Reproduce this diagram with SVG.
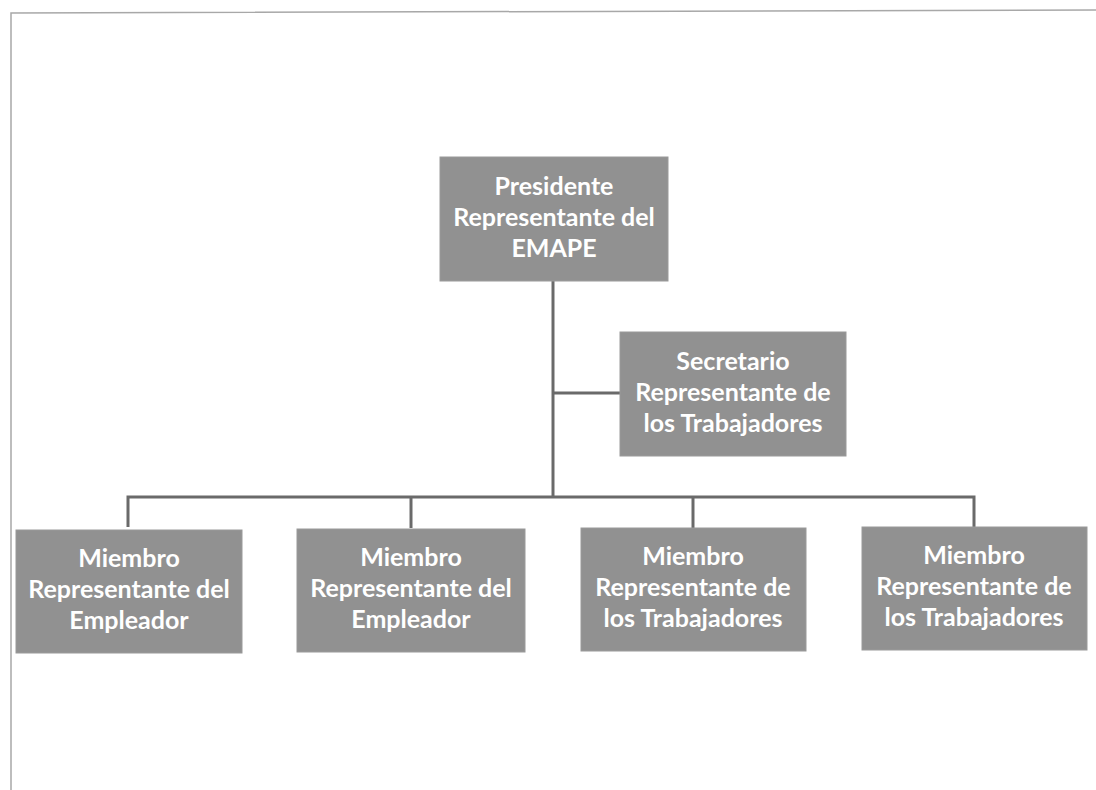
<svg xmlns="http://www.w3.org/2000/svg" width="1096" height="790" viewBox="0 0 1096 790">
<style>
.box{fill:#919191;stroke:#9a9a9a;stroke-width:1}
.t{font-family:Lato,"Open Sans","Liberation Sans",sans-serif;font-weight:bold;font-size:25px;fill:#ffffff;text-anchor:middle}
.ln{stroke:#6a6a6a;stroke-width:3;fill:none}
.frame{stroke:#a8a8a8;stroke-width:1.5;fill:none}
</style>
<rect width="1096" height="790" fill="#ffffff"/>
<path class="frame" d="M11,790 L11,13 L1096,10"/>
<g id="connectors">
<path class="ln" d="M553,281 V497"/>
<path class="ln" d="M553,393 H620"/>
<path class="ln" d="M128,527 V497 H974 V527"/>
<path class="ln" d="M411,497 V528"/>
<path class="ln" d="M693,497 V528"/>
</g>
<g id="presidente">
<rect class="box" x="440" y="157" width="228" height="124"/>
<text class="t" x="554" y="195">Presidente</text>
<text class="t" x="554" y="226">Representante del</text>
<text class="t" x="554" y="257">EMAPE</text>
</g>
<g id="secretario">
<rect class="box" x="620" y="332" width="226" height="124"/>
<text class="t" x="733" y="370">Secretario</text>
<text class="t" x="733" y="401">Representante de</text>
<text class="t" x="733" y="432">los Trabajadores</text>
</g>
<g id="miembro1">
<rect class="box" x="16" y="530" width="226" height="123"/>
<text class="t" x="129" y="567">Miembro</text>
<text class="t" x="129" y="598">Representante del</text>
<text class="t" x="129" y="629">Empleador</text>
</g>
<g id="miembro2">
<rect class="box" x="297" y="529" width="228" height="123"/>
<text class="t" x="411" y="566">Miembro</text>
<text class="t" x="411" y="597">Representante del</text>
<text class="t" x="411" y="628">Empleador</text>
</g>
<g id="miembro3">
<rect class="box" x="581" y="528" width="225" height="123"/>
<text class="t" x="693" y="565">Miembro</text>
<text class="t" x="693" y="596">Representante de</text>
<text class="t" x="693" y="627">los Trabajadores</text>
</g>
<g id="miembro4">
<rect class="box" x="862" y="527" width="225" height="123"/>
<text class="t" x="974" y="564">Miembro</text>
<text class="t" x="974" y="595">Representante de</text>
<text class="t" x="974" y="626">los Trabajadores</text>
</g>
</svg>
